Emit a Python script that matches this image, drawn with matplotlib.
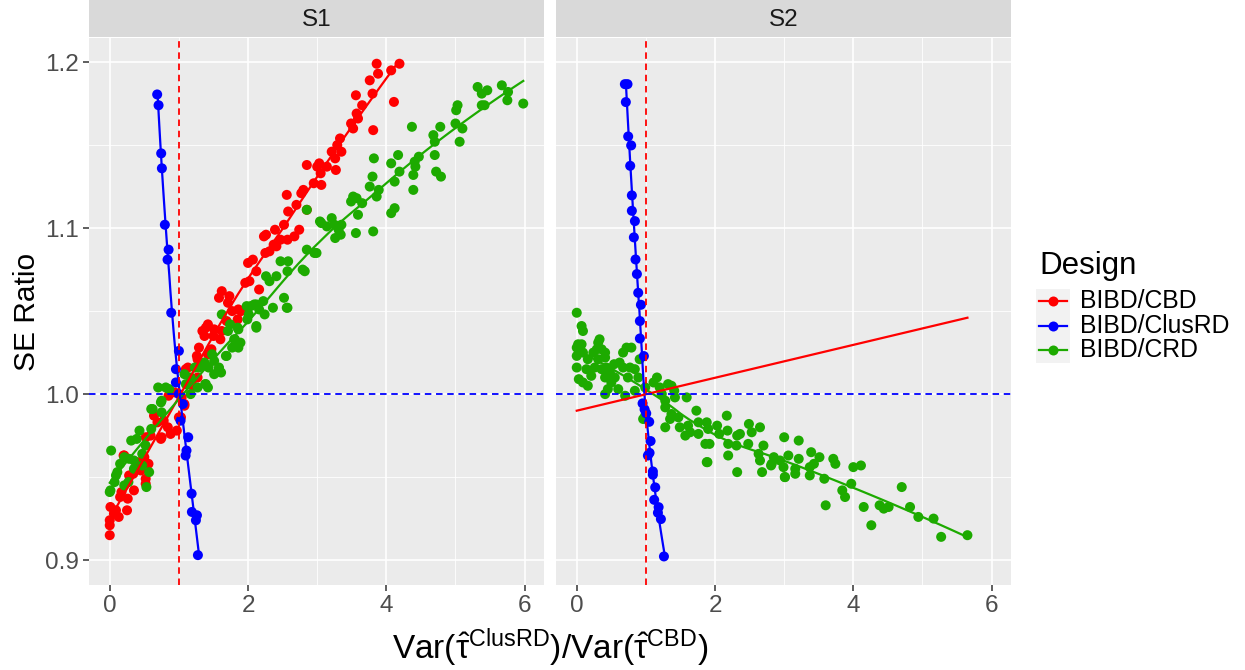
import numpy as np
import matplotlib
matplotlib.use('Agg')
import matplotlib.pyplot as plt
from matplotlib.lines import Line2D
from matplotlib.patches import Rectangle

# ---- data ----
# S1, BIBD/CBD
red_s1_x = [3.86, 4.19, 3.88, 4.07, 3.76, 3.80, 3.56, 4.11, 3.65, 3.57, 3.59, 3.49, 3.52, 3.81,
            3.33, 3.29, 3.35, 3.21, 3.26, 2.85, 3.03, 3.00, 3.14, 3.05, 3.27, 2.95, 3.06, 2.80,
            2.77, 2.56, 2.70, 2.85, 2.58, 2.52, 2.39, 2.74, 2.26, 2.23, 2.67, 2.47, 2.57, 2.37,
            2.41, 2.31, 2.25, 2.00, 2.07, 2.12, 1.96, 2.02, 2.16, 1.62, 1.58, 1.73, 1.71, 1.77,
            1.86, 1.90, 1.85, 1.69, 1.42, 1.39, 1.34, 1.51, 1.62, 1.37, 1.50, 1.60, 1.29, 1.47,
            1.42, 1.26, 1.27, 1.13, 1.10, 1.27, 1.18, 1.20, 0.85, 0.94, 1.04, 1.08, 1.08, 1.03,
            0.64, 0.69, 0.78, 0.84, 0.88, 0.97, 0.75, 0.52, 0.59, 0.20, 0.42, 0.50, 0.56, 0.45,
            0.34, 0.28, 0.52, 0.35, 0.17, 0.15, 0.26, 0.25, 0.01, 0.09, 0.13, 0.00, 0.00, 0.00,
            0.06, 0.40, 1.00, 0.74, 0.21, 0.52]
red_s1_y = [1.199, 1.199, 1.193, 1.195, 1.189, 1.181, 1.180, 1.176, 1.174, 1.169, 1.166, 1.163,
            1.160, 1.159, 1.154, 1.150, 1.146, 1.146, 1.142, 1.138, 1.139, 1.137, 1.137, 1.133,
            1.135, 1.127, 1.126, 1.123, 1.121, 1.120, 1.114, 1.111, 1.110, 1.102, 1.099, 1.099,
            1.096, 1.095, 1.095, 1.093, 1.093, 1.090, 1.089, 1.086, 1.085, 1.079, 1.081, 1.074,
            1.067, 1.068, 1.063, 1.062, 1.058, 1.059, 1.055, 1.050, 1.051, 1.050, 1.045, 1.044,
            1.042, 1.040, 1.038, 1.039, 1.038, 1.035, 1.035, 1.033, 1.028, 1.027, 1.024, 1.023,
            1.021, 1.016, 1.015, 1.010, 1.007, 1.005, 0.999, 1.001, 0.998, 0.994, 0.993, 0.986,
            0.987, 0.983, 0.984, 0.980, 0.976, 0.978, 0.974, 0.974, 0.975, 0.963, 0.959, 0.962,
            0.958, 0.954, 0.952, 0.951, 0.946, 0.942, 0.941, 0.938, 0.937, 0.930, 0.932, 0.930,
            0.926, 0.924, 0.921, 0.915, 0.928, 0.958, 0.986, 0.973, 0.963, 0.949]

# S1, BIBD/CRD
green_s1_x = [5.32, 5.67, 5.38, 5.46, 5.76, 5.75, 5.98, 5.38, 5.42, 5.03, 5.01, 5.00, 5.10, 5.06,
              4.37, 4.68, 4.78, 4.70, 4.70, 4.17, 4.47, 3.82, 4.07, 4.42, 4.41, 4.19, 4.39, 4.72,
              4.79, 3.80, 4.12, 3.76, 3.89, 4.39, 3.86, 3.52, 3.57, 3.49, 3.65, 4.12, 4.07, 3.59,
              3.04, 3.06, 3.21, 3.14, 3.25, 3.35, 3.31, 3.34, 3.26, 3.56, 3.81, 2.85, 2.96, 2.99,
              2.79, 2.82, 2.85, 2.47, 2.58, 2.57, 2.26, 2.41, 2.31, 2.52, 2.57, 2.36, 2.22, 2.12,
              2.04, 1.98, 2.16, 2.24, 2.01, 1.99, 2.12, 1.62, 1.74, 1.86, 1.71, 1.81, 1.89, 1.86,
              1.77, 1.69, 1.48, 1.51, 1.37, 1.43, 1.33, 1.58, 1.61, 1.51, 1.23, 1.29, 1.38, 1.42,
              1.27, 1.08, 1.10, 0.70, 0.81, 0.86, 0.74, 0.62, 0.75, 0.60, 0.75, 0.60, 0.43, 0.31,
              0.39, 0.52, 0.02, 0.21, 0.15, 0.28, 0.47, 0.11, 0.09, 0.07, 0.01, 0.00, 0.57, 0.53,
              0.21, 0.27, 0.47, 0.35, 0.35, 1.17, 1.39, 1.17, 1.58, 1.68, 1.80, 1.85, 2.12, 2.56,
              2.09]
green_s1_y = [1.185, 1.186, 1.181, 1.183, 1.182, 1.177, 1.175, 1.174, 1.174, 1.174, 1.171, 1.163,
              1.160, 1.152, 1.161, 1.156, 1.161, 1.152, 1.144, 1.144, 1.143, 1.142, 1.139, 1.137,
              1.140, 1.134, 1.132, 1.134, 1.131, 1.131, 1.128, 1.125, 1.123, 1.123, 1.119, 1.119,
              1.118, 1.116, 1.115, 1.112, 1.109, 1.108, 1.104, 1.103, 1.106, 1.101, 1.102, 1.102,
              1.099, 1.096, 1.094, 1.097, 1.098, 1.087, 1.085, 1.085, 1.075, 1.074, 1.111, 1.080,
              1.080, 1.074, 1.071, 1.071, 1.068, 1.058, 1.052, 1.052, 1.056, 1.054, 1.053, 1.053,
              1.051, 1.048, 1.048, 1.045, 1.040, 1.048, 1.042, 1.039, 1.038, 1.033, 1.031, 1.028,
              1.028, 1.023, 1.024, 1.020, 1.019, 1.016, 1.017, 1.016, 1.013, 1.012, 1.016, 1.016,
              1.006, 1.004, 1.004, 1.012, 1.006, 1.004, 1.004, 1.003, 0.995, 0.991, 0.996, 0.991,
              0.989, 0.979, 0.978, 0.972, 0.973, 0.969, 0.966, 0.962, 0.958, 0.961, 0.964, 0.953,
              0.951, 0.947, 0.942, 0.941, 0.953, 0.944, 0.945, 0.947, 0.957, 0.960, 0.955, 1.010,
              1.006, 1.000, 1.015, 1.023, 1.033, 1.040, 1.041, 1.052, 1.054]

# S1, BIBD/ClusRD
blue_s1_x = [0.686, 0.706, 0.744, 0.754, 0.797, 0.851, 0.836, 0.889, 1.000, 0.957, 0.957,
             1.000, 1.058, 1.024, 1.135, 1.110, 1.097, 1.184, 1.188, 1.261, 1.246, 1.275]
blue_s1_y = [1.1805, 1.174, 1.145, 1.136, 1.102, 1.087, 1.081, 1.049, 1.026, 1.015, 1.007,
             1.000, 0.994, 0.984, 0.974, 0.966, 0.963, 0.940, 0.929, 0.927, 0.924, 0.903]

# S2, BIBD/ClusRD
blue_s2_x = [0.696, 0.734, 0.710, 0.744, 0.787, 0.773, 0.797, 0.797, 0.841, 0.826, 0.850,
             0.870, 0.889, 0.928, 0.913, 0.913, 0.971, 0.952, 0.981, 1.005, 1.048, 1.068,
             1.053, 1.029, 1.101, 1.101, 1.135, 1.120, 1.184, 1.174, 1.217, 1.261]
blue_s2_y = [1.1867, 1.1867, 1.1759, 1.1552, 1.1498, 1.1375, 1.1197, 1.1104, 1.1042, 1.0944,
             1.0811, 1.0723, 1.0610, 1.0538, 1.0440, 1.0335, 1.0229, 0.9944, 0.9908, 0.9884,
             0.9833, 0.9717, 0.9646, 0.9630, 0.9534, 0.9514, 0.9438, 0.9363, 0.9319, 0.9285,
             0.9247, 0.9022]

# S2, BIBD/CRD
green_s2_x = [0.00, 0.07, 0.09, 0.02, 0.07, 0.00, 0.04, 0.00, 0.09, 0.16, 0.00, 0.14, 0.03, 0.09,
              0.16, 0.21, 0.26, 0.24, 0.31, 0.33, 0.29, 0.36, 0.41, 0.41, 0.31, 0.36, 0.43, 0.41,
              0.48, 0.54, 0.55, 0.50, 0.62, 0.67, 0.72, 0.79, 0.67, 0.77, 0.84, 0.74, 0.89, 0.91,
              0.60, 0.45, 0.41, 0.70, 0.84, 0.99, 1.11, 1.16, 1.20, 1.32, 1.37, 1.23, 1.28, 1.42,
              1.28, 1.37, 1.59, 0.99, 0.96, 1.41, 1.73, 1.35, 1.28, 1.47, 1.49, 1.61, 1.57, 1.64,
              1.76, 1.76, 1.88, 1.90, 1.86, 1.92, 1.88, 2.03, 2.06, 2.17, 2.18, 2.19, 2.19, 2.32,
              2.32, 2.36, 2.31, 2.48, 2.49, 2.53, 2.65, 2.70, 2.63, 2.68, 2.81, 2.85, 3.01, 3.00,
              3.06, 3.21, 2.65, 2.94, 2.82, 2.99, 3.21, 3.16, 3.39, 3.51, 3.43, 3.37, 3.16, 3.37,
              3.01, 1.89, 3.71, 3.74, 4.00, 4.11, 3.58, 3.97, 3.84, 3.88, 3.60, 4.15, 4.38, 4.44,
              4.51, 4.70, 4.82, 4.26, 4.94, 5.16, 5.27, 5.65]
green_s2_y = [1.049, 1.041, 1.038, 1.030, 1.030, 1.028, 1.026, 1.023, 1.025, 1.021, 1.016, 1.015,
              1.009, 1.007, 1.005, 1.011, 1.016, 1.025, 1.031, 1.033, 1.027, 1.027, 1.025, 1.022,
              1.021, 1.015, 1.016, 1.010, 1.013, 1.018, 1.010, 1.007, 1.019, 1.025, 1.028, 1.028,
              1.016, 1.016, 1.015, 1.010, 1.010, 1.021, 1.003, 1.003, 1.000, 0.999, 1.002, 1.004,
              1.007, 1.010, 1.004, 1.006, 1.005, 1.000, 0.996, 0.998, 0.992, 0.988, 0.998, 0.987,
              0.985, 1.002, 0.990, 0.985, 0.980, 0.986, 0.980, 0.981, 0.975, 0.977, 0.983, 0.976,
              0.983, 0.979, 0.970, 0.970, 0.959, 0.981, 0.976, 0.987, 0.978, 0.970, 0.963, 0.953,
              0.975, 0.976, 0.969, 0.970, 0.982, 0.977, 0.980, 0.969, 0.964, 0.953, 0.957, 0.962,
              0.950, 0.974, 0.963, 0.972, 0.960, 0.960, 0.958, 0.956, 0.961, 0.955, 0.965, 0.962,
              0.958, 0.956, 0.952, 0.951, 0.950, 0.959, 0.961, 0.958, 0.956, 0.957, 0.949, 0.946,
              0.942, 0.938, 0.933, 0.932, 0.933, 0.931, 0.932, 0.944, 0.932, 0.921, 0.926, 0.925,
              0.914, 0.915]

# S2, BIBD/CBD (fitted line only, no points)
red_s2_x = [0.0, 5.65]
red_s2_y = [0.990, 1.046]

designs = ['BIBD/CBD', 'BIBD/ClusRD', 'BIBD/CRD']
colors = {'BIBD/CBD': '#FF0000', 'BIBD/ClusRD': '#0000FF', 'BIBD/CRD': '#1DAA00'}


def loess(x, y, grid, span=0.75):
    # local quadratic fit with tricube weights, like geom_smooth's default
    x = np.asarray(x, float)
    y = np.asarray(y, float)
    q = int(np.ceil(span * len(x)))
    out = []
    for x0 in grid:
        d = np.abs(x - x0)
        h = np.sort(d)[q - 1] * 1.0001
        w = np.clip(1 - (d / h) ** 3, 0, None) ** 3
        A = np.vstack([np.ones_like(x), x - x0, (x - x0) ** 2]).T
        sw = np.sqrt(w)
        coef = np.linalg.lstsq(A * sw[:, None], y * sw, rcond=None)[0]
        out.append(coef[0])
    return np.array(out)


plt.rcParams['font.family'] = ['Liberation Sans', 'DejaVu Sans']
plt.rcParams['mathtext.fontset'] = 'custom'
plt.rcParams['mathtext.rm'] = 'Liberation Sans'
plt.rcParams['mathtext.it'] = 'Liberation Sans:italic'
plt.rcParams['mathtext.bf'] = 'Liberation Sans:bold'

W, H = 1245, 670
fig = plt.figure(figsize=(W / 100, H / 100), dpi=100)


def px_axes(left, top, width, height):
    return fig.add_axes([left / W, 1 - (top + height) / H, width / W, height / H])


panel_top, panel_h, panel_w = 38, 547, 455
lefts = [89, 556]
dash = (0, (3.6, 2.6))


def style_panel(ax, first):
    ax.set_facecolor('#EBEBEB')
    for sp in ax.spines.values():
        sp.set_visible(False)
    ax.set_xlim(-0.3, 6.28)
    ax.set_ylim(0.885, 1.2145)
    ax.set_xticks([0, 2, 4, 6])
    ax.set_xticks([1, 3, 5], minor=True)
    ax.set_yticks([0.9, 1.0, 1.1, 1.2])
    ax.set_yticks([0.95, 1.05, 1.15], minor=True)
    ax.set_yticklabels(['0.9', '1.0', '1.1', '1.2'])
    ax.grid(which='major', color='white', linewidth=1.2)
    ax.grid(which='minor', color='white', linewidth=0.6)
    ax.set_axisbelow(True)
    ax.tick_params(which='major', length=4, width=1.1, color='#333333',
                   labelsize=17.5, labelcolor='#4D4D4D', pad=3)
    ax.tick_params(which='minor', length=0)
    if not first:
        ax.tick_params(axis='y', which='both', left=False, labelleft=False)


def strip(left, label):
    s = px_axes(left, 0, panel_w, panel_top - 1)
    s.set_facecolor('#D9D9D9')
    s.set_xticks([])
    s.set_yticks([])
    for sp in s.spines.values():
        sp.set_visible(False)
    s.text(0.5, 0.45, label, ha='center', va='center', fontsize=17.5, color='#1A1A1A',
           transform=s.transAxes)


ax1 = px_axes(lefts[0], panel_top, panel_w, panel_h)
ax2 = px_axes(lefts[1], panel_top, panel_w, panel_h)
style_panel(ax1, True)
style_panel(ax2, False)
strip(lefts[0], 'S1')
strip(lefts[1], 'S2')

pt = dict(s=52, edgecolors='none', zorder=3)
lw = 1.6

# S1
ax1.scatter(red_s1_x, red_s1_y, color=colors['BIBD/CBD'], **pt)
ax1.scatter(green_s1_x, green_s1_y, color=colors['BIBD/CRD'], **pt)
ax1.scatter(blue_s1_x, blue_s1_y, color=colors['BIBD/ClusRD'], **pt)
gx = np.linspace(min(red_s1_x), max(red_s1_x), 80)
ax1.plot(gx, loess(red_s1_x, red_s1_y, gx), color=colors['BIBD/CBD'], lw=lw, zorder=4)
gx = np.linspace(min(green_s1_x), max(green_s1_x), 80)
ax1.plot(gx, loess(green_s1_x, green_s1_y, gx), color=colors['BIBD/CRD'], lw=lw, zorder=4)
gy = np.linspace(min(blue_s1_y), max(blue_s1_y), 80)
ax1.plot(loess(blue_s1_y, blue_s1_x, gy), gy, color=colors['BIBD/ClusRD'], lw=lw, zorder=4)

# S2
ax2.scatter(green_s2_x, green_s2_y, color=colors['BIBD/CRD'], **pt)
ax2.scatter(blue_s2_x, blue_s2_y, color=colors['BIBD/ClusRD'], **pt)
gx = np.linspace(min(green_s2_x), max(green_s2_x), 80)
ax2.plot(gx, loess(green_s2_x, green_s2_y, gx), color=colors['BIBD/CRD'], lw=lw, zorder=4)
gy = np.linspace(min(blue_s2_y), max(blue_s2_y), 80)
ax2.plot(loess(blue_s2_y, blue_s2_x, gy), gy, color=colors['BIBD/ClusRD'], lw=lw, zorder=4)
ax2.plot(red_s2_x, red_s2_y, color=colors['BIBD/CBD'], lw=lw, zorder=4)

for ax in (ax1, ax2):
    ax.axvline(1, color='#FF0000', lw=1.3, ls=dash, zorder=5)
    ax.axhline(1, color='#0000FF', lw=1.3, ls=dash, zorder=5)

# axis titles
fig.text((lefts[0] + lefts[1] + panel_w) / 2 / W, 1 - 648 / H,
         r'$\mathrm{Var}(\hat{\mathrm{τ}}^{\mathrm{ClusRD}})/\mathrm{Var}(\hat{\mathrm{τ}}^{\mathrm{CBD}})$',
         ha='center', va='center', fontsize=24)
fig.text(27 / W, 1 - (panel_top + panel_h / 2) / H, 'SE Ratio', rotation=90,
         ha='center', va='center', fontsize=21.5)

# legend
lg = fig.add_axes([0, 0, 1, 1])
lg.set_xlim(0, W)
lg.set_ylim(H, 0)
lg.axis('off')
lg.text(1039, 266, 'Design', fontsize=22.5, ha='left', va='center', color='black')
row_y = [301, 326, 350]
for yy, name in zip(row_y, designs):
    lg.add_patch(Rectangle((1036, yy - 12.5), 34, 25, facecolor='#F2F2F2', edgecolor='none'))
    lg.add_line(Line2D([1039, 1067], [yy, yy], color=colors[name], lw=lw))
    lg.add_line(Line2D([1053], [yy], color=colors[name], marker='o', markersize=7.2,
                       markeredgewidth=0))
    lg.text(1080, yy, name, fontsize=17.8, ha='left', va='center', color='black')

fig.savefig('out.png', dpi=100)
